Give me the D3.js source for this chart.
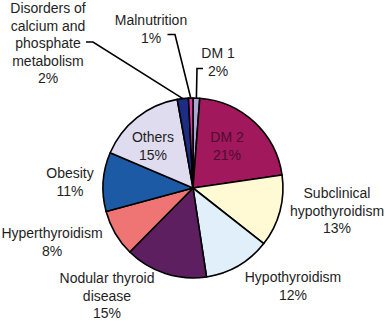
<!DOCTYPE html>
<html><head><meta charset="utf-8">
<script src="https://cdn.jsdelivr.net/npm/d3@7/dist/d3.min.js"></script>
<style>
html,body{margin:0;padding:0;background:#fff;}
svg{display:block;}
text{font-family:"Liberation Sans",Arial,sans-serif;font-size:14px;fill:#1e1e1e;}
</style></head>
<body>
<svg id="chart" width="386" height="321"></svg>
<script>
// Data (clockwise from 12 o'clock)
const categories = ["DM 1","DM 2","Subclinical hypothyroidism","Hypothyroidism","Nodular thyroid disease","Hyperthyroidism","Obesity","Others","Disorders of calcium and phosphate metabolism","Malnutrition"];
const values = [1.2, 21.5, 12.9, 12.0, 14.8, 8.4, 10.6, 15.8, 2.0, 0.8];
const percentLabels = ["2%","21%","13%","12%","15%","8%","11%","15%","2%","1%"];
const labelLines = [["DM 1"],["DM 2"],["Subclinical","hypothyroidism"],["Hypothyroidism"],["Nodular thyroid","disease"],["Hyperthyroidism"],["Obesity"],["Others"],["Disorders of","calcium and","phosphate","metabolism"],["Malnutrition"]];
const colors = ["#a9a8d6","#a2185c","#fffad4","#e1effa","#5d1f5f","#ef7474","#1d5aa6","#dedcee","#1d2d84","#d8399a"];

// Layout
const W = 386, H = 321, cx = 193, cy = 188, R = 90, lineH = 17.6;
// label centre (x, first-line y), per slice
const labelPos = [[218,53],[227,137],[337,193],[293,277],[107,278],[52,233],[70,173],[153,137],[48,8],[151,20]];
const labelFill = [null,"#4c0d33",null,null,null,null,null,null,null,null];
// leader elbows for small slices: [elbow points]
const leaders = {0: [[203,68.5],[197,68.5]], 8: [[86,42],[93,42]], 9: [[167.5,34.5],[175,34.5]]};

const svg = d3.select("#chart");
const g = svg.append("g").attr("transform", `translate(${cx},${cy})`);
const pie = d3.pie().sort(null).value(d => d)(values);
const arc = d3.arc().innerRadius(0).outerRadius(R);

g.selectAll("path.slice").data(pie).join("path")
  .attr("class","slice")
  .attr("d", arc)
  .attr("fill", (d,i) => colors[i])
  .attr("stroke", "#000")
  .attr("stroke-width", 1.6)
  .attr("stroke-linejoin","round");

// leader lines
Object.keys(leaders).forEach(k => {
  const i = +k, d = pie[i];
  const a = (d.startAngle + d.endAngle)/2;
  const rim = [cx + R*Math.sin(a), cy - R*Math.cos(a)];
  const pts = leaders[k].concat([rim]);
  svg.append("path")
    .attr("d", d3.line()(pts))
    .attr("fill","none")
    .attr("stroke","#000")
    .attr("stroke-width",1.6);
});

// labels
categories.forEach((c,i) => {
  const [x,y] = labelPos[i];
  const lines = labelLines[i].concat([percentLabels[i]]);
  const t = svg.append("text").attr("text-anchor","middle");
  if (labelFill[i]) t.style("fill", labelFill[i]);
  lines.forEach((l,j) => {
    t.append("tspan").attr("x", x).attr("y", y + j*lineH).attr("dy","0.35em").text(l);
  });
});
</script>
</body></html>
